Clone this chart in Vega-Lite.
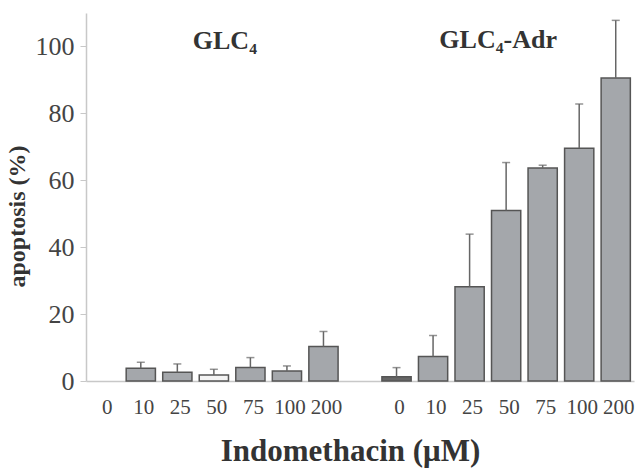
{
  "$schema": "https://vega.github.io/schema/vega-lite/v6.json",
  "autosize": {"type": "none"},
  "width": 548,
  "height": 368,
  "padding": {"left": 86, "top": 13, "right": 4, "bottom": 88},
  "background": "white",
  "config": {"view": {"stroke": null}, "font": "Liberation Serif"},
  "datasets": {
    "bars": [
      {"key": "G-0", "group": "GLC4", "conc": "0", "value": 0, "upper": 0},
      {"key": "G-10", "group": "GLC4", "conc": "10", "value": 3.8, "upper": 5.6},
      {"key": "G-25", "group": "GLC4", "conc": "25", "value": 2.6, "upper": 5.1},
      {"key": "G-50", "group": "GLC4", "conc": "50", "value": 1.8, "upper": 3.5},
      {"key": "G-75", "group": "GLC4", "conc": "75", "value": 4.0, "upper": 7.0},
      {"key": "G-100", "group": "GLC4", "conc": "100", "value": 3.0, "upper": 4.5},
      {"key": "G-200", "group": "GLC4", "conc": "200", "value": 10.3, "upper": 14.8},
      {"key": "A-0", "group": "GLC4-Adr", "conc": "0", "value": 1.3, "upper": 4.0},
      {"key": "A-10", "group": "GLC4-Adr", "conc": "10", "value": 7.3, "upper": 13.6},
      {"key": "A-25", "group": "GLC4-Adr", "conc": "25", "value": 28.2, "upper": 43.9},
      {"key": "A-50", "group": "GLC4-Adr", "conc": "50", "value": 51.0, "upper": 65.3},
      {"key": "A-75", "group": "GLC4-Adr", "conc": "75", "value": 63.7, "upper": 64.5},
      {"key": "A-100", "group": "GLC4-Adr", "conc": "100", "value": 69.6, "upper": 82.8},
      {"key": "A-200", "group": "GLC4-Adr", "conc": "200", "value": 90.6, "upper": 107.8}
    ],
    "titles": [
      {"key": "G-50", "label": "GLC₄", "value": 101.5},
      {"key": "A-50", "label": "GLC₄-Adr", "value": 102}
    ]
  },
  "data": {"name": "bars"},
  "encoding": {
    "x": {
      "field": "key",
      "type": "nominal",
      "sort": null,
      "scale": {
        "domain": ["G-0", "G-10", "G-25", "G-50", "G-75", "G-100", "G-200", "gap", "A-0", "A-10", "A-25", "A-50", "A-75", "A-100", "A-200"],
        "paddingInner": 0.2,
        "paddingOuter": 0.1
      },
      "axis": {
        "title": "Indomethacin (μM)",
        "titleFont": "Liberation Serif",
        "titleFontSize": 31,
        "titleFontWeight": "bold",
        "titleColor": "#333",
        "titlePadding": 19,
        "titleX": 264,
        "labelExpr": "datum.value == 'gap' ? '' : split(datum.value, '-')[1]",
        "labelAngle": 0,
        "labelOffset": 3,
        "labelFont": "Liberation Serif",
        "labelFontSize": 21,
        "labelColor": "#444",
        "labelPadding": 15,
        "ticks": false,
        "domainColor": "#c8c8c8",
        "domainWidth": 1.5
      }
    },
    "y": {
      "field": "value",
      "type": "quantitative",
      "scale": {"domain": [0, 110], "nice": false},
      "axis": {
        "title": "apoptosis (%)",
        "titleFont": "Liberation Serif",
        "titleFontSize": 24,
        "titleFontWeight": "bold",
        "titleColor": "#333",
        "titlePadding": 6,
        "titleY": 203,
        "values": [0, 20, 40, 60, 80, 100],
        "labelFont": "Liberation Serif",
        "labelFontSize": 26,
        "labelColor": "#444",
        "labelPadding": 6,
        "tickColor": "#c8c8c8",
        "tickSize": 6,
        "domainColor": "#c8c8c8",
        "domainWidth": 1.5,
        "grid": false
      }
    }
  },
  "layer": [
    {
      "mark": {"type": "bar", "stroke": "#555", "strokeWidth": 1.5},
      "transform": [{"filter": "datum.value > 0"}],
      "encoding": {
        "fill": {
          "condition": [
            {"test": "datum.key == 'A-0'", "value": "#666"},
            {"test": "datum.key == 'G-50'", "value": "#f4f4f4"}
          ],
          "value": "#a4a7ab"
        }
      }
    },
    {
      "mark": {"type": "rule", "color": "#666", "strokeWidth": 1.5},
      "transform": [{"filter": "datum.upper > datum.value"}],
      "encoding": {"y2": {"field": "upper"}}
    },
    {
      "mark": {"type": "tick", "color": "#666", "thickness": 1.5, "size": 8},
      "transform": [{"filter": "datum.upper > 0"}],
      "encoding": {"y": {"field": "upper", "type": "quantitative"}}
    },
    {
      "data": {"name": "titles"},
      "transform": [{"filter": "datum.key == 'G-50'"}],
      "mark": {"type": "text", "font": "Liberation Serif", "fontSize": 26, "fontWeight": "bold", "color": "#333", "baseline": "middle", "align": "center", "dx": 11},
      "encoding": {"text": {"field": "label"}}
    },
    {
      "data": {"name": "titles"},
      "transform": [{"filter": "datum.key == 'A-50'"}],
      "mark": {"type": "text", "font": "Liberation Serif", "fontSize": 26, "fontWeight": "bold", "color": "#333", "baseline": "middle", "align": "center", "dx": -8},
      "encoding": {"text": {"field": "label"}}
    }
  ]
}
